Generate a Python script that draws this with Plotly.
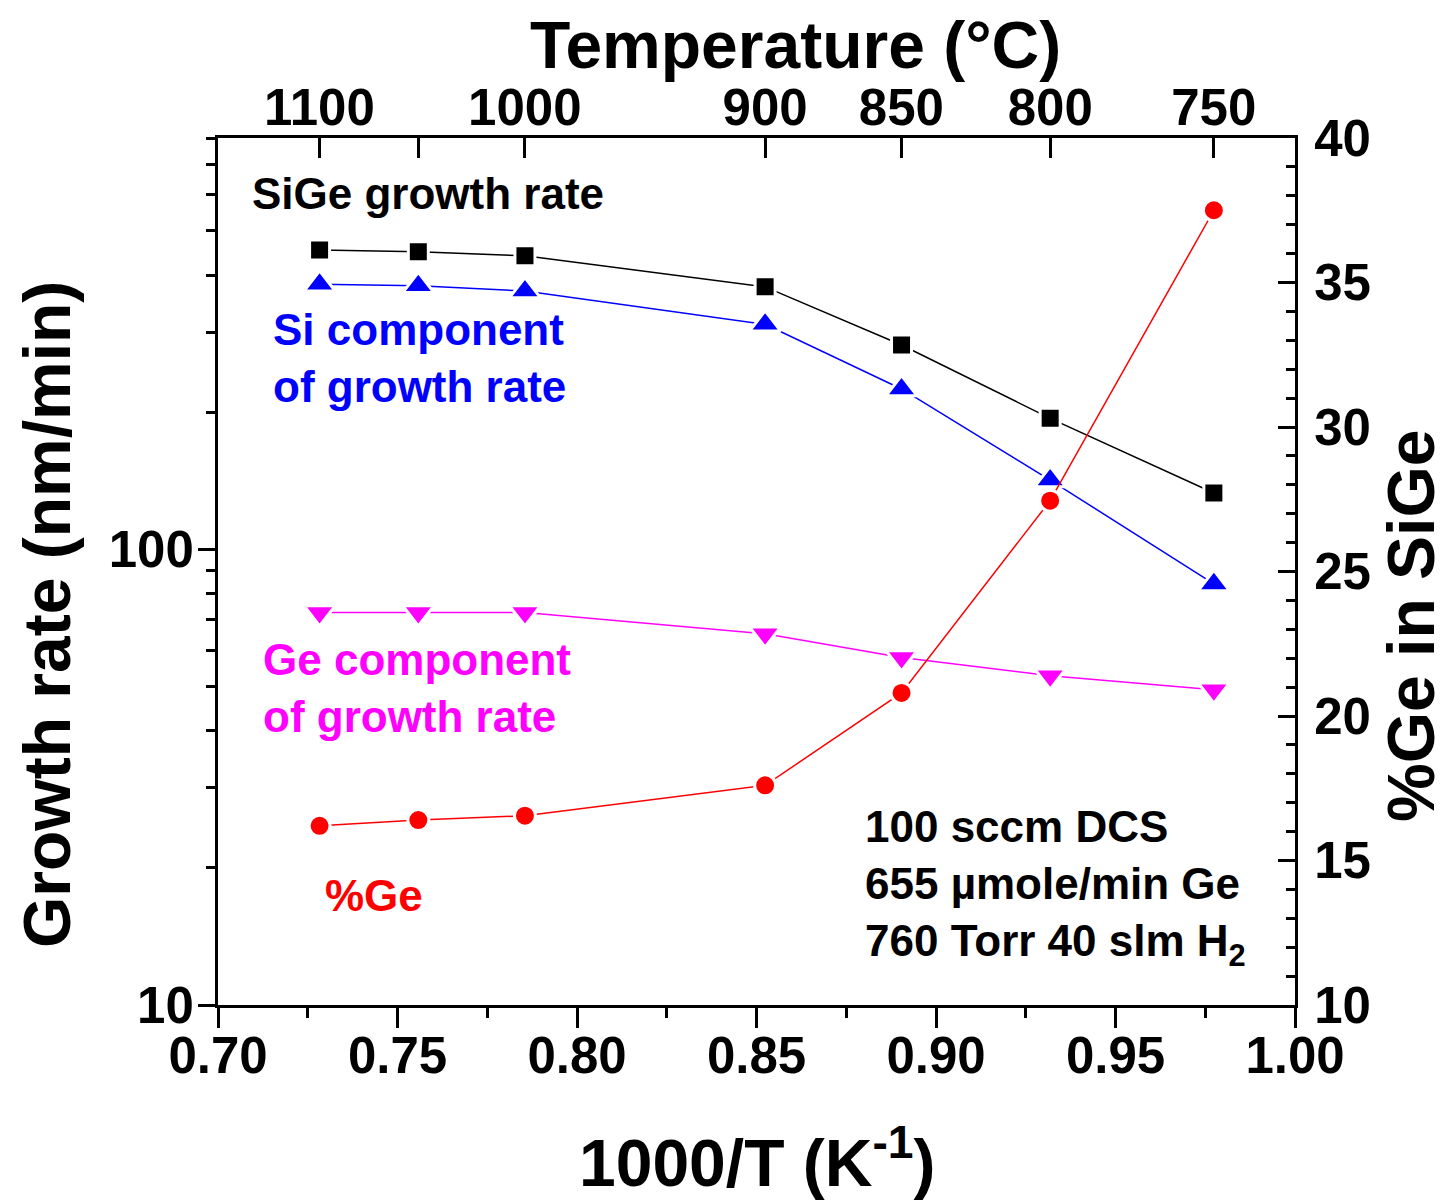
import math
import plotly.graph_objects as go

# ---------------- data ----------------
temps_C = [1100, 1050, 1000, 900, 850, 800, 750]
inv_T = [0.7283, 0.7558, 0.7855, 0.8524, 0.8904, 0.9318, 0.9774]   # 1000/T (K^-1)
sige_rate = [454, 450, 441, 377, 281, 194, 133]                       # nm/min
si_rate = [382, 379, 369, 312, 225, 142, 84]                          # nm/min
ge_rate = [72.7, 72.7, 72.7, 65.3, 57.9, 52.8, 49.2]                  # nm/min
ge_pct = [16.2, 16.4, 16.55, 17.6, 20.8, 27.45, 37.5]                 # %Ge

top_label_temps = [1100, 1000, 900, 850, 800, 750]
top_label_text = ["1100", "1000", "900", "850", "800", "750"]
top_unlabeled_temps = [1050]
left_tick_vals = [10, 100]
left_minor_vals = [20, 30, 40, 50, 60, 70, 80, 90, 200, 300, 400, 500, 600, 700, 800]

FONT = "Liberation Sans, Arial, sans-serif"
BLACK, BLUE, MAGENTA, RED = "#000000", "#0000FF", "#FF00FF", "#FF0000"

# the page body has an 8px margin; geometry below is in figure pixels
OFF = 8
W, H = 1442, 1193
L, R, T, B = 210, 155, 130, 196
PW, PH = W - L - R, H - T - B


def px(xv):  # viewport x -> paper fraction
    return (xv - OFF - L) / PW


def py(yv):  # viewport y -> paper fraction
    return (H - B - (yv - OFF)) / PH


fig = go.Figure()


def add(y, color, symbol, size, yaxis="y"):
    fig.add_trace(go.Scatter(
        x=inv_T, y=y, mode="lines+markers", yaxis=yaxis,
        line=dict(color=color, width=1.5),
        marker=dict(symbol=symbol, size=size, color=color,
                    line=dict(color="white", width=3)),
        showlegend=False, cliponaxis=False))


add(sige_rate, BLACK, "square", 20)
add(si_rate, BLUE, "triangle-up", 27)
add(ge_rate, MAGENTA, "triangle-down", 27)
add(ge_pct, RED, "circle", 21, yaxis="y2")

# invisible trace so the top temperature axis is drawn
fig.add_trace(go.Scatter(x=[0.7, 1.0], y=[None, None], xaxis="x2",
                         showlegend=False, hoverinfo="skip"))

tickfont = dict(family=FONT, size=51, color=BLACK, weight="bold")
common = dict(showline=True, linewidth=3, linecolor=BLACK, showgrid=False,
              zeroline=False, tickwidth=3, tickcolor=BLACK, tickfont=tickfont)

top_vals = [1000.0 / (t + 273.15) for t in top_label_temps]
top_minor_vals = [1000.0 / (t + 273.15) for t in top_unlabeled_temps]

fig.update_layout(
    width=W, height=H,
    margin=dict(l=L, r=R, t=T, b=B),
    paper_bgcolor="white", plot_bgcolor="white",
    font=dict(family=FONT, color=BLACK),
    xaxis=dict(range=[0.70, 1.00], tick0=0.70, dtick=0.05, tickformat=".2f",
               ticks="outside", ticklen=20, ticklabelstandoff=-16,
               minor=dict(tick0=0.70, dtick=0.025, ticks="outside", ticklen=10,
                          tickwidth=3, tickcolor=BLACK),
               **common),
    xaxis2=dict(overlaying="x", side="top", range=[0.70, 1.00],
                tickmode="array", tickvals=top_vals, ticktext=top_label_text,
                ticks="inside", ticklen=20, ticklabelstandoff=-10,
                minor=dict(tickmode="array", tickvals=top_minor_vals,
                           ticks="inside", ticklen=20, tickwidth=3, tickcolor=BLACK),
                **common),
    yaxis=dict(type="log", range=[1, math.log10(800)],
               tickmode="array", tickvals=left_tick_vals,
               ticktext=[str(v) for v in left_tick_vals],
               ticks="outside", ticklen=17, ticklabelstandoff=-6,
               minor=dict(tickmode="array", tickvals=left_minor_vals,
                          ticks="outside", ticklen=9, tickwidth=3, tickcolor=BLACK),
               **common),
    yaxis2=dict(overlaying="y", side="right", range=[10, 40], tick0=10, dtick=5,
                ticks="inside", ticklen=17, ticklabelstandoff=6,
                minor=dict(dtick=1, ticks="inside", ticklen=9, tickwidth=3,
                           tickcolor=BLACK),
                **common),
)

title_font = dict(family=FONT, size=66, color=BLACK, weight="bold")
ann_font = dict(family=FONT, size=44, weight="bold")

annotations = [
    # axis titles
    dict(text="Temperature (°C)", x=px(795), y=py(45), font=title_font,
         xanchor="center", yanchor="middle"),
    dict(text="1000/T (K<sup>-1</sup>)", x=px(757), y=py(1158), font=title_font,
         xanchor="center", yanchor="middle"),
    dict(text="Growth rate (nm/min)", x=px(47), y=py(615), font=title_font,
         textangle=-90, xanchor="center", yanchor="middle"),
    dict(text="%Ge in SiGe", x=px(1411), y=py(626), font=title_font,
         textangle=-90, xanchor="center", yanchor="middle"),
    # series labels
    dict(text="SiGe growth rate", x=px(250), y=py(193),
         font=dict(ann_font, color=BLACK), xanchor="left", yanchor="middle", align="left"),
    dict(text="Si component<br>of growth rate", x=px(271), y=py(358),
         font=dict(ann_font, color=BLUE), xanchor="left", yanchor="middle", align="left"),
    dict(text="Ge component<br>of growth rate", x=px(261), y=py(688),
         font=dict(ann_font, color=MAGENTA), xanchor="left", yanchor="middle", align="left"),
    dict(text="%Ge", x=px(323), y=py(895),
         font=dict(ann_font, color=RED), xanchor="left", yanchor="middle", align="left"),
    dict(text="100 sccm DCS<br>655 µmole/min Ge<br>760 Torr 40 slm H<sub>2</sub>",
         x=px(863), y=py(887), font=dict(ann_font, color=BLACK),
         xanchor="left", yanchor="middle", align="left"),
]
for a in annotations:
    a.update(xref="paper", yref="paper", showarrow=False)
fig.update_layout(annotations=annotations)

fig.write_html("out.html")
